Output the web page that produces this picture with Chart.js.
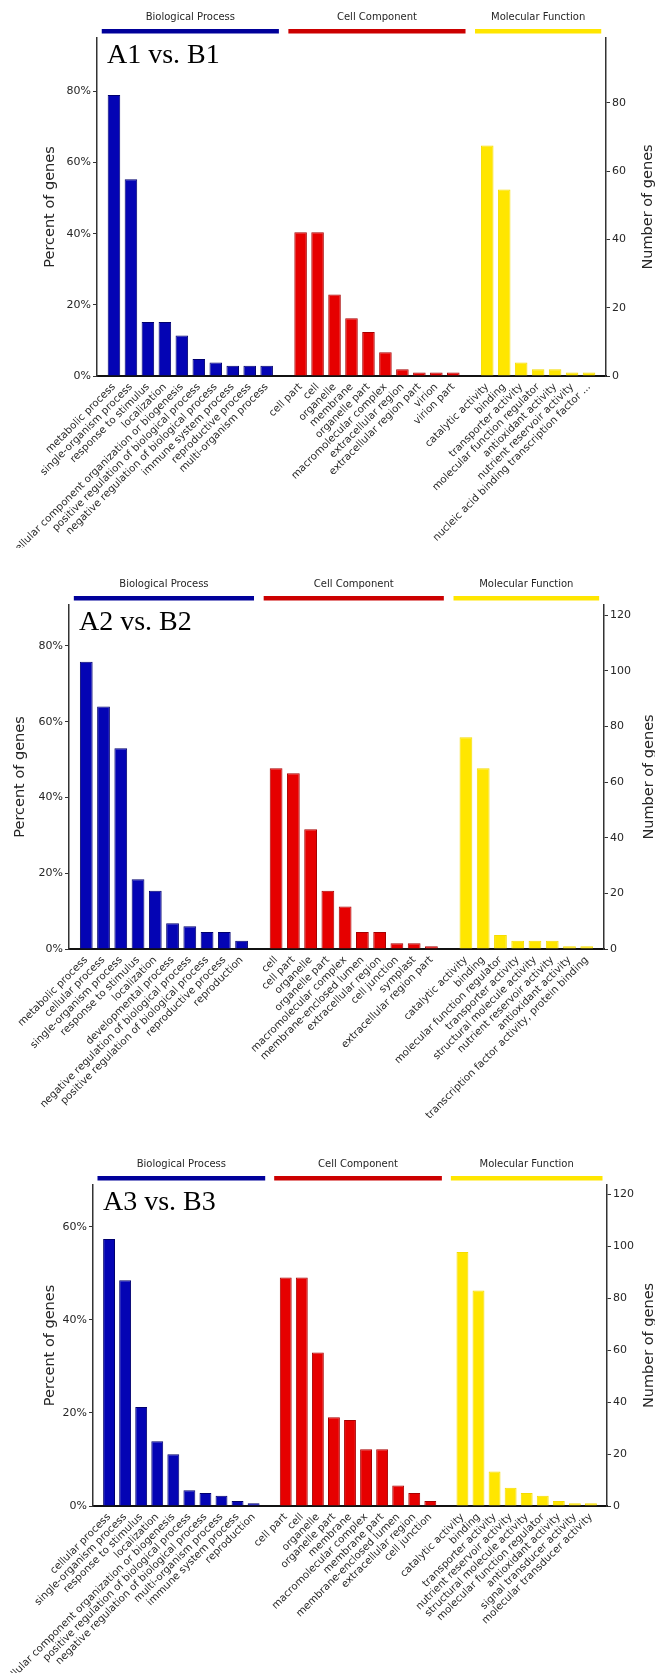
<!DOCTYPE html>
<html>
<head>
<meta charset="utf-8">
<script src="https://cdn.jsdelivr.net/npm/chart.js@4.4.1/dist/chart.umd.min.js"></script>
<style>
  html, body { margin: 0; padding: 0; background: #ffffff; }
  body { width: 655px; height: 1673px; position: relative; overflow: hidden; }
  .panel { position: absolute; left: 0; width: 655px; }
  canvas { display: block; }
</style>
</head>
<body>
<div class="panel" style="top:0px;height:548px"><canvas id="c1" width="655" height="548"></canvas></div>
<div class="panel" style="top:548px;height:582px"><canvas id="c2" width="655" height="582"></canvas></div>
<div class="panel" style="top:1130px;height:543px"><canvas id="c3" width="655" height="543"></canvas></div>
<script>
// ---- GO categories and percent of genes, per comparison ----
const groupNames = ['Biological Process', 'Cell Component', 'Molecular Function'];

// A1 vs. B1
const a1BpLabels = ['metabolic process', 'single-organism process', 'response to stimulus', 'localization',
  'cellular component organization or biogenesis', 'positive regulation of biological process',
  'negative regulation of biological process', 'immune system process', 'reproductive process', 'multi-organism process'];
const a1BpPct = [79.0, 55.3, 15.2, 15.2, 11.4, 4.8, 3.8, 2.9, 2.9, 2.9];
const a1CcLabels = ['cell part', 'cell', 'organelle', 'membrane', 'organelle part', 'macromolecular complex',
  'extracellular region', 'extracellular region part', 'virion', 'virion part'];
const a1CcPct = [40.4, 40.4, 22.9, 16.2, 12.4, 6.7, 1.9, 1.0, 1.0, 1.0];
const a1MfLabels = ['catalytic activity', 'binding', 'transporter activity', 'molecular function regulator',
  'antioxidant activity', 'nutrient reservoir activity', 'nucleic acid binding transcription factor ...'];
const a1MfPct = [64.8, 52.4, 3.8, 1.9, 1.9, 1.0, 1.0];
const a1PctTicks = [0, 20, 40, 60, 80];
const a1CountTicks = [0, 20, 40, 60, 80];
const a1PctMax = 95;
const a1CountMax = 99;

// A2 vs. B2
const a2BpLabels = ['metabolic process', 'cellular process', 'single-organism process', 'response to stimulus',
  'localization', 'developmental process', 'negative regulation of biological process',
  'positive regulation of biological process', 'reproductive process', 'reproduction'];
const a2BpPct = [75.8, 64.0, 53.0, 18.4, 15.4, 6.8, 6.0, 4.5, 4.5, 2.2];
const a2CcLabels = ['cell', 'cell part', 'organelle', 'organelle part', 'macromolecular complex',
  'membrane-enclosed lumen', 'extracellular region', 'cell junction', 'symplast', 'extracellular region part'];
const a2CcPct = [47.7, 46.4, 31.6, 15.4, 11.2, 4.5, 4.5, 1.5, 1.5, 0.7];
const a2MfLabels = ['catalytic activity', 'binding', 'molecular function regulator', 'transporter activity',
  'structural molecule activity', 'nutrient reservoir activity', 'antioxidant activity',
  'transcription factor activity, protein binding'];
const a2MfPct = [55.9, 47.7, 3.7, 2.2, 2.2, 2.2, 0.7, 0.7];
const a2PctTicks = [0, 20, 40, 60, 80];
const a2CountTicks = [0, 20, 40, 60, 80, 100, 120];
const a2PctMax = 90.8;
const a2CountMax = 123.6;

// A3 vs. B3
const a3BpLabels = ['cellular process', 'single-organism process', 'response to stimulus', 'localization',
  'cellular component organization or biogenesis', 'positive regulation of biological process',
  'negative regulation of biological process', 'multi-organism process', 'immune system process', 'reproduction'];
const a3BpPct = [57.4, 48.5, 21.3, 13.9, 11.1, 3.4, 2.8, 2.2, 1.1, 0.6];
const a3CcLabels = ['cell part', 'cell', 'organelle', 'organelle part', 'membrane', 'macromolecular complex',
  'membrane part', 'membrane-enclosed lumen', 'extracellular region', 'cell junction'];
const a3CcPct = [49.1, 49.1, 33.0, 19.1, 18.5, 12.2, 12.2, 4.4, 2.8, 1.1];
const a3MfLabels = ['catalytic activity', 'binding', 'transporter activity', 'nutrient reservoir activity',
  'structural molecule activity', 'molecular function regulator', 'antioxidant activity',
  'signal transducer activity', 'molecular transducer activity'];
const a3MfPct = [54.6, 46.3, 7.4, 3.9, 2.8, 2.2, 1.1, 0.6, 0.6];
const a3PctTicks = [0, 20, 40, 60];
const a3CountTicks = [0, 20, 40, 60, 80, 100, 120];
const a3PctMax = 69;
const a3CountMax = 123.6;

// ---- styling ----
const FILL = ['#0404B4', '#E60000', '#FFE600'];
const EDGE = ['#00006E', '#A80000', '#F5DC00'];
const HEADER = ['#00009A', '#CC0000', '#FFE600'];
const SANS = "'DejaVu Sans', sans-serif";
const TEXT = '#262626';

// header strips, comparison name and the two axis titles
const panelDecor = {
  id: 'panelDecor',
  afterDraw(chart, args, opts) {
    const { ctx, chartArea: ca, scales } = chart;
    const x = scales.x;
    const slot = x.getPixelForValue(1) - x.getPixelForValue(0);
    ctx.save();
    opts.groups.forEach((g, k) => {
      const x0 = x.getPixelForValue(g[0]) - 0.72 * slot;
      const x1 = x.getPixelForValue(g[1]) + 0.72 * slot;
      ctx.fillStyle = HEADER[k];
      ctx.fillRect(x0, ca.top - 9, x1 - x0, 4.5);
      ctx.fillStyle = TEXT;
      ctx.font = '10px ' + SANS;
      ctx.textAlign = 'center';
      ctx.textBaseline = 'middle';
      ctx.fillText(groupNames[k], (x0 + x1) / 2, ca.top - 21);
    });
    ctx.fillStyle = '#000';
    ctx.font = "28px 'Liberation Serif', serif";
    ctx.textAlign = 'left';
    ctx.textBaseline = 'middle';
    ctx.fillText(opts.name, ca.left + 10, ca.top + 18);

    ctx.fillStyle = TEXT;
    ctx.font = '14.5px ' + SANS;
    ctx.textAlign = 'center';
    const midY = (ca.top + ca.bottom) / 2;
    [[ca.left - opts.titleOffset[0], 'Percent of genes'], [ca.right + opts.titleOffset[1], 'Number of genes']]
      .forEach(([tx, txt]) => {
        ctx.save();
        ctx.translate(tx, midY);
        ctx.rotate(-Math.PI / 2);
        ctx.fillText(txt, 0, 0);
        ctx.restore();
      });
    ctx.restore();
  }
};

function buildPanel(id, p) {
  const labels = ['', ...p.bp, '', ...p.cc, '', ...p.mf, ''];
  const values = [null, ...p.bpPct, null, ...p.ccPct, null, ...p.mfPct, null];
  const nb = p.bp.length, nc = p.cc.length, nm = p.mf.length;
  const groups = [[1, nb], [nb + 2, nb + 1 + nc], [nb + nc + 3, nb + nc + 2 + nm]];
  const groupOf = i => (i <= nb ? 0 : i <= nb + 1 + nc ? 1 : 2);
  const fills = labels.map((_, i) => FILL[groupOf(i)]);
  const edges = labels.map((_, i) => EDGE[groupOf(i)]);
  const g = p.geom;
  const yW = 40;

  new Chart(document.getElementById(id), {
    type: 'bar',
    data: {
      labels,
      datasets: [{
        data: values,
        backgroundColor: fills,
        borderColor: edges,
        borderWidth: 1,
        borderSkipped: 'bottom',
        categoryPercentage: 1,
        barPercentage: 0.74,
        yAxisID: 'y'
      }]
    },
    options: {
      responsive: false,
      animation: false,
      events: [],
      layout: { padding: { left: g.left - yW, right: 655 - g.right - yW, top: g.top, bottom: 0 } },
      plugins: {
        legend: { display: false },
        tooltip: { enabled: false },
        panelDecor: { groups, name: p.name, titleOffset: g.titleOffset }
      },
      scales: {
        x: {
          type: 'category',
          offset: false,
          grid: { display: false, drawTicks: false },
          border: { display: true, color: '#111', width: 2 },
          ticks: {
            autoSkip: false, maxRotation: 45, minRotation: 45, padding: 5,
            color: TEXT, font: { family: SANS, size: 10.3 }
          },
          afterFit(s) { s.paddingLeft = 0; s.paddingRight = 0; s.height = g.canvasH - g.bottom; }
        },
        y: {
          position: 'left', min: 0, max: p.pctMax,
          grid: { drawOnChartArea: false, drawTicks: true, tickLength: 4, color: '#333', lineWidth: 1 },
          border: { display: true, color: '#333', width: 1.5 },
          ticks: { padding: 2, color: TEXT, font: { family: SANS, size: 11 }, callback: v => v + '%' },
          afterBuildTicks(s) { s.ticks = p.pctTicks.map(v => ({ value: v })); },
          afterFit(s) { s.width = yW; s.paddingTop = 0; s.paddingBottom = 0; }
        },
        y1: {
          position: 'right', min: 0, max: p.countMax,
          grid: { drawOnChartArea: false, drawTicks: true, tickLength: 4, color: '#333', lineWidth: 1 },
          border: { display: true, color: '#333', width: 1.5 },
          ticks: { padding: 2, color: TEXT, font: { family: SANS, size: 11 } },
          afterBuildTicks(s) { s.ticks = p.countTicks.map(v => ({ value: v })); },
          afterFit(s) { s.width = yW; s.paddingTop = 0; s.paddingBottom = 0; }
        }
      }
    },
    plugins: [panelDecor]
  });
}

buildPanel('c1', {
  name: 'A1 vs. B1',
  bp: a1BpLabels, bpPct: a1BpPct, cc: a1CcLabels, ccPct: a1CcPct, mf: a1MfLabels, mfPct: a1MfPct,
  pctTicks: a1PctTicks, countTicks: a1CountTicks, pctMax: a1PctMax, countMax: a1CountMax,
  geom: { canvasH: 548, left: 97, right: 606, top: 38, bottom: 376, titleOffset: [47, 42] }
});
buildPanel('c2', {
  name: 'A2 vs. B2',
  bp: a2BpLabels, bpPct: a2BpPct, cc: a2CcLabels, ccPct: a2CcPct, mf: a2MfLabels, mfPct: a2MfPct,
  pctTicks: a2PctTicks, countTicks: a2CountTicks, pctMax: a2PctMax, countMax: a2CountMax,
  geom: { canvasH: 582, left: 69, right: 604, top: 57, bottom: 401, titleOffset: [49, 45] }
});
buildPanel('c3', {
  name: 'A3 vs. B3',
  bp: a3BpLabels, bpPct: a3BpPct, cc: a3CcLabels, ccPct: a3CcPct, mf: a3MfLabels, mfPct: a3MfPct,
  pctTicks: a3PctTicks, countTicks: a3CountTicks, pctMax: a3PctMax, countMax: a3CountMax,
  geom: { canvasH: 543, left: 93, right: 607, top: 55, bottom: 376, titleOffset: [43, 42] }
});
</script>
</body>
</html>
